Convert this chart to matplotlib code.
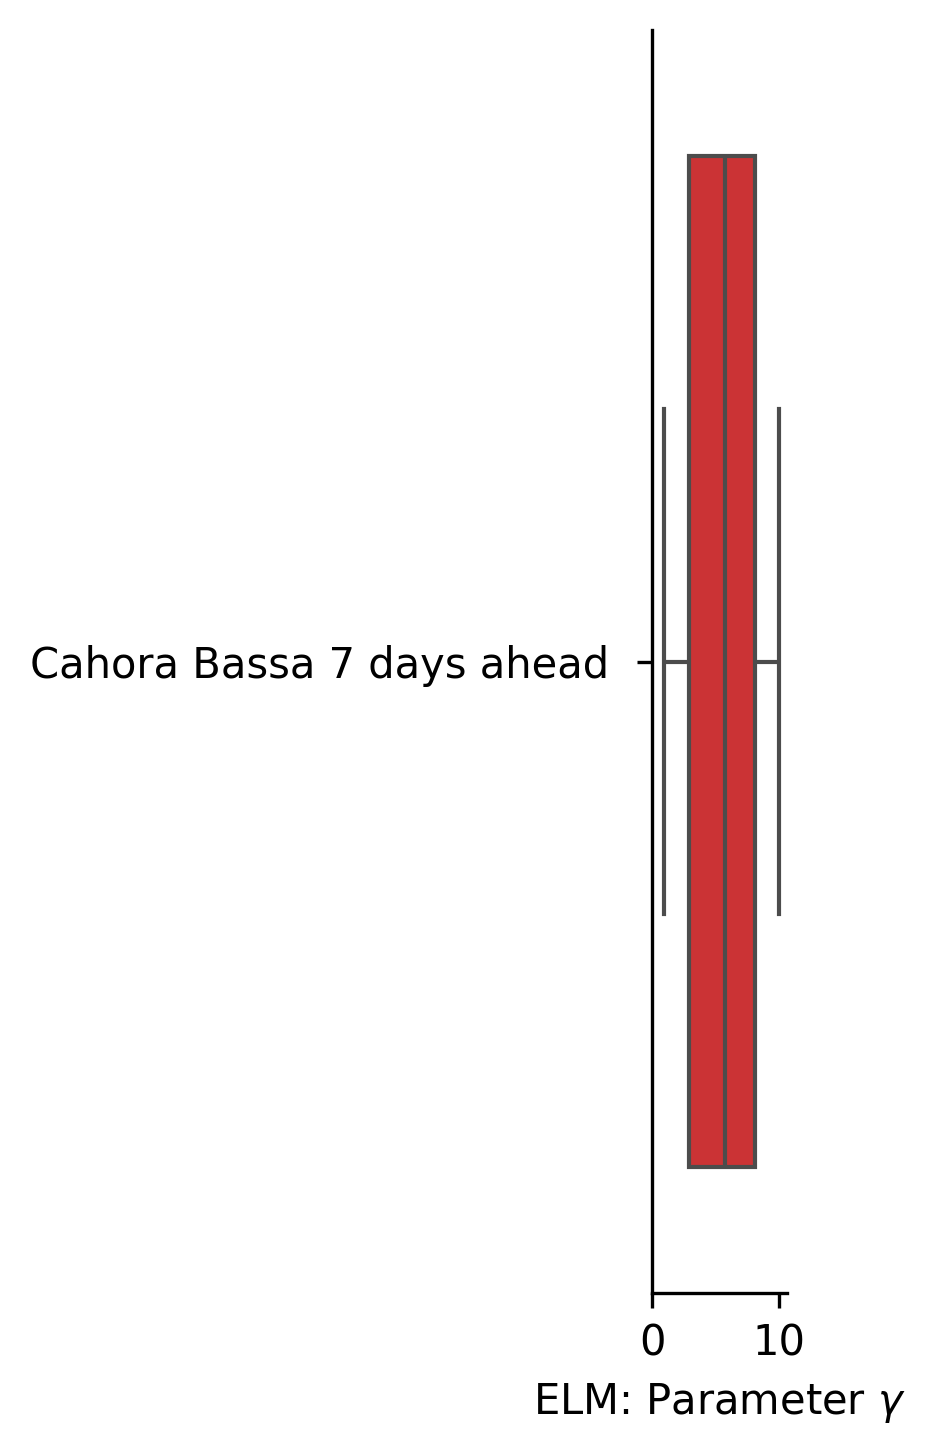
import matplotlib
matplotlib.use("Agg")
from matplotlib import pyplot as plt
import seaborn as sns
import pandas as pd

# Values (whisker ends, quartiles, median)
gamma_values = [0.95, 2.9, 5.75, 8.1, 10.0]
category = "Cahora Bassa 7 days ahead "
box_color = "#e41a1c"

df = pd.DataFrame({"gamma": gamma_values, "case": [category] * len(gamma_values)})

fig = plt.figure(figsize=(935 / 300, 1456 / 300), dpi=300)
ax = fig.add_axes([652 / 935, 1 - 1293 / 1456, (787 - 652) / 935, (1293 - 30) / 1456])

sns.boxplot(data=df, x="gamma", y="case", color=box_color, ax=ax)

ax.set_xlim(0, 10.6)
ax.set_xticks([0, 10])
ax.set_xlabel(r"ELM: Parameter $\gamma$", fontsize=10)
ax.set_ylabel("")
ax.tick_params(labelsize=10)
sns.despine(ax=ax)

fig.savefig("out.png", dpi=300)
